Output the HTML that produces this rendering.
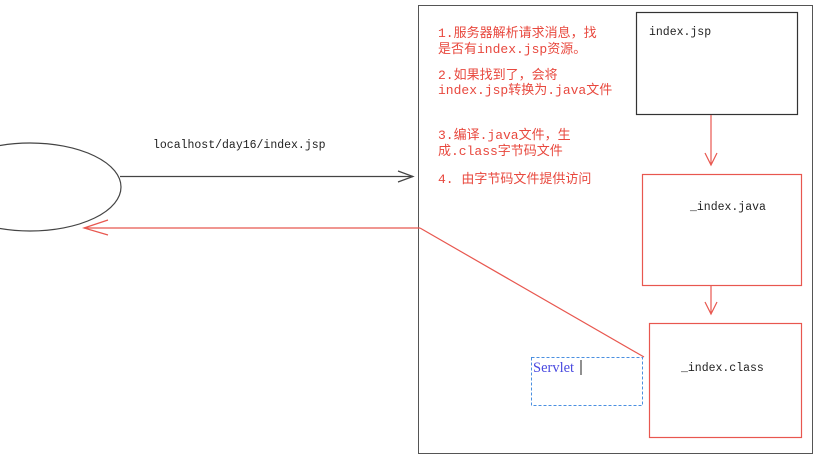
<!DOCTYPE html>
<html><head><meta charset="utf-8"><style>
html,body{margin:0;padding:0;background:#fff;width:819px;height:459px;overflow:hidden}
svg{display:block}
.r{font-family:"Liberation Mono","Noto Sans CJK SC",monospace;font-size:13px;fill:#e8483e}
.m{font-family:"Liberation Mono","Noto Sans CJK SC",monospace;font-size:11.5px;fill:#222}
</style></head><body>
<svg width="819" height="459" viewBox="0 0 819 459">
<rect x="0" y="0" width="819" height="459" fill="#fff"/>
<rect x="418.5" y="5.5" width="394" height="448" fill="none" stroke="#555" stroke-width="1"/>
<ellipse cx="30" cy="187" rx="91" ry="44" fill="none" stroke="#444" stroke-width="1.2"/>
<line x1="120" y1="176.5" x2="413" y2="176.5" stroke="#444" stroke-width="1.2"/>
<polyline points="398,171 413,176.5 398,182" fill="none" stroke="#444" stroke-width="1.2"/>
<text x="153" y="148" class="m">localhost/day16/index.jsp</text>
<line x1="420" y1="228" x2="84" y2="228" stroke="#e8574f" stroke-width="1.2"/>
<polyline points="108,220 84,228 108,235" fill="none" stroke="#e8574f" stroke-width="1.2"/>
<line x1="420" y1="228" x2="644" y2="357" stroke="#e8574f" stroke-width="1.2"/>
<text x="438" y="37" class="r">1.服务器解析请求消息，找</text>
<text x="438" y="53" class="r">是否有index.jsp资源。</text>
<text x="438" y="79" class="r">2.如果找到了，会将</text>
<text x="438" y="94" class="r">index.jsp转换为.java文件</text>
<text x="438" y="139" class="r">3.编译.java文件，生</text>
<text x="438" y="155" class="r">成.class字节码文件</text>
<text x="438" y="183" class="r">4. 由字节码文件提供访问</text>
<rect x="636.5" y="12.5" width="161" height="102" fill="none" stroke="#333" stroke-width="1.2"/>
<text x="649" y="35" class="m">index.jsp</text>
<line x1="711" y1="115" x2="711" y2="164" stroke="#e8574f" stroke-width="1.2"/>
<polyline points="705,153 711,165 717,153" fill="none" stroke="#e8574f" stroke-width="1.2"/>
<rect x="642.5" y="174.5" width="159" height="111" fill="none" stroke="#e8574f" stroke-width="1.2"/>
<text x="690" y="210" class="m">_index.java</text>
<line x1="711" y1="286" x2="711" y2="313" stroke="#e8574f" stroke-width="1.2"/>
<polyline points="705,302 711,314 717,302" fill="none" stroke="#e8574f" stroke-width="1.2"/>
<rect x="649.5" y="323.5" width="152" height="114" fill="none" stroke="#e8574f" stroke-width="1.2"/>
<text x="681" y="371" class="m">_index.class</text>
<rect x="531.5" y="357.5" width="111" height="48" fill="none" stroke="#4a8fe0" stroke-width="1" stroke-dasharray="3,2"/>
<text x="533" y="372" font-family="Liberation Serif,serif" font-size="14.5" fill="#4a4ae0">Servlet</text>
<line x1="581" y1="360" x2="581" y2="375" stroke="#222" stroke-width="1"/>
</svg>
</body></html>
